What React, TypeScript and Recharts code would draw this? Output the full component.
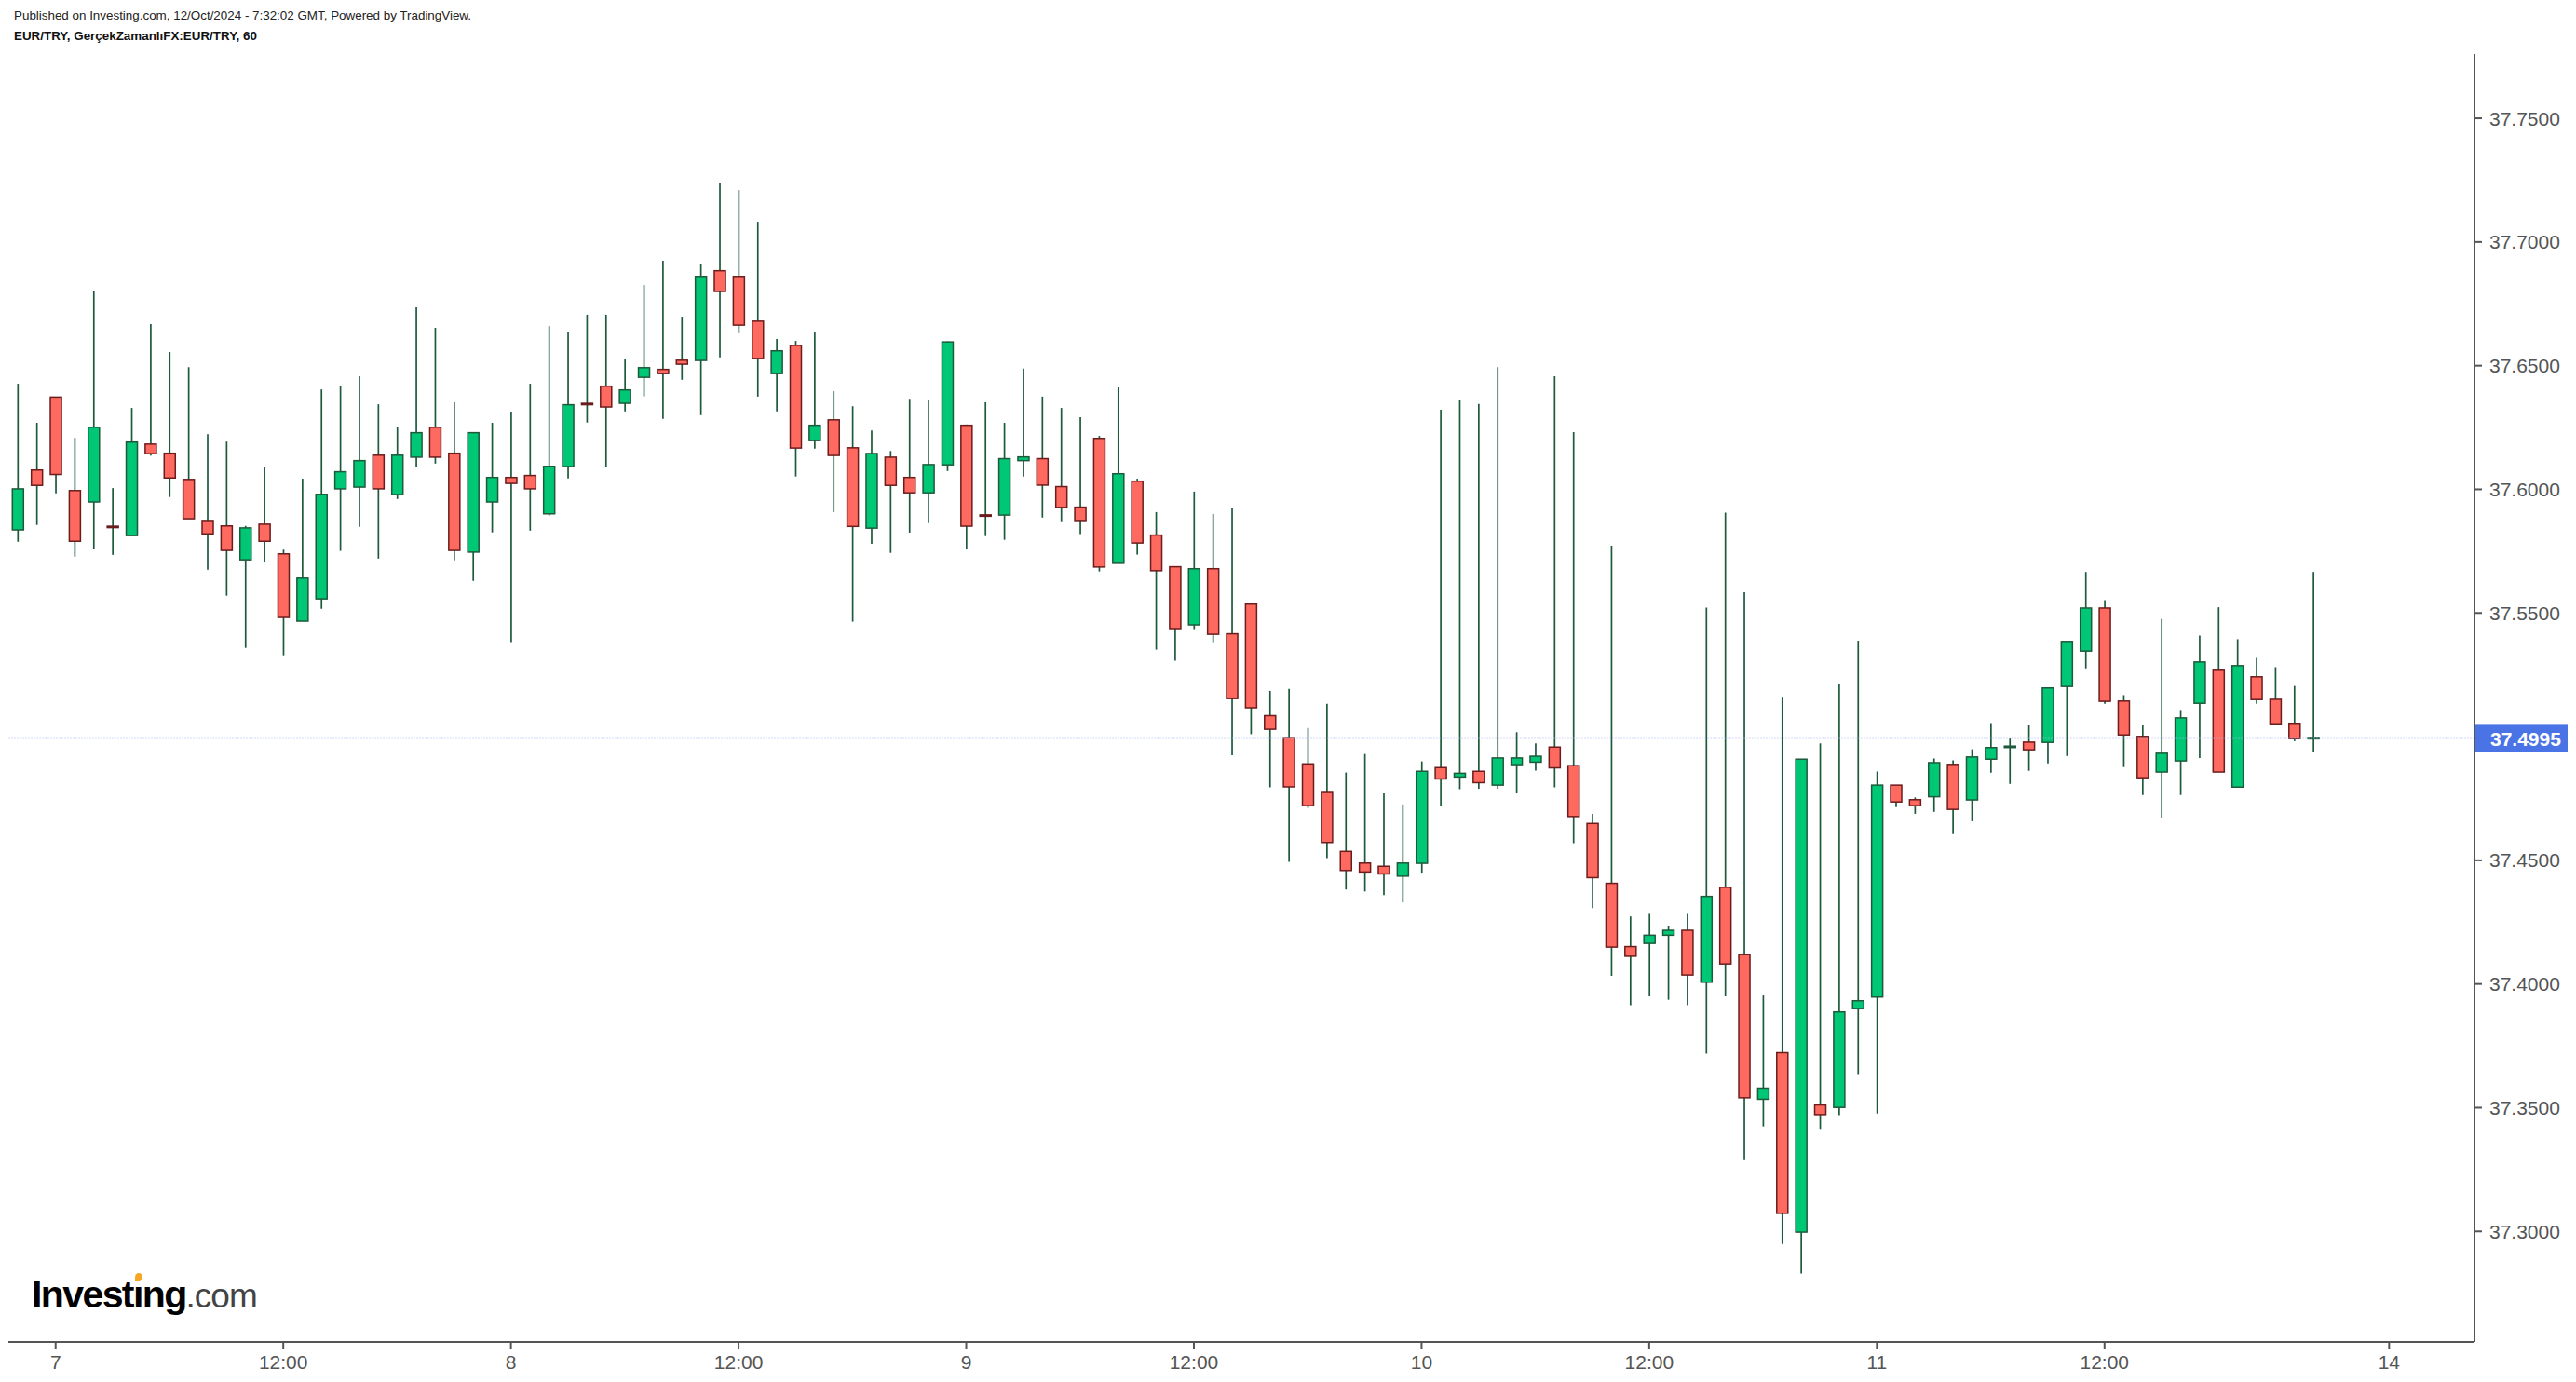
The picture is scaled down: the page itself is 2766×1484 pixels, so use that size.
import React from "react";
import { ComposedChart, Bar, XAxis, YAxis, ReferenceLine } from "recharts";

// EUR/TRY hourly candles, Oct 6 22:00 -> Oct 11 (index = hour slot)
const OPEN = [
  37.5836, 37.6078, 37.6373, 37.5995, 37.5949, 37.5849, 37.5813, 37.6183, 37.6146, 37.604,
  37.5874, 37.5852, 37.5715, 37.5859, 37.5739, 37.5467, 37.5557, 37.6002, 37.6009, 37.6138,
  37.5979, 37.613, 37.6251, 37.6146, 37.5746, 37.5949, 37.6048, 37.6056, 37.5901, 37.6092,
  37.6346, 37.6417, 37.6348, 37.6453, 37.6485, 37.6522, 37.6521, 37.6884, 37.6861, 37.668,
  37.6468, 37.6582, 37.6197, 37.6281, 37.6168, 37.5843, 37.613, 37.6048, 37.5986, 37.6099,
  37.6259, 37.5895, 37.5896, 37.6116, 37.6124, 37.6011, 37.5928, 37.6206, 37.5701, 37.6033,
  37.5815, 37.5687, 37.5452, 37.5679, 37.5416, 37.5536, 37.5085, 37.4996, 37.489, 37.4778,
  37.4536, 37.4489, 37.4476, 37.4436, 37.4488, 37.4875, 37.4837, 37.486, 37.4804, 37.4887,
  37.4897, 37.4958, 37.4883, 37.4649, 37.4407, 37.4151, 37.4164, 37.4197, 37.4217, 37.4007,
  37.4391, 37.412, 37.3534, 37.3722, 37.2997, 37.3511, 37.3501, 37.3901, 37.3947, 37.4804,
  37.4745, 37.4757, 37.4888, 37.4744, 37.4909, 37.4958, 37.4978, 37.4977, 37.5203, 37.5346,
  37.552, 37.5144, 37.5001, 37.4857, 37.4902, 37.5135, 37.5272, 37.4796, 37.5242, 37.5151,
  37.5054, 37.4993,
];
const HIGH = [
  37.6427, 37.6269, 37.6373, 37.6208, 37.6803, 37.6005, 37.6329, 37.6668, 37.6555, 37.6494,
  37.6223, 37.6193, 37.5852, 37.6088, 37.5756, 37.6043, 37.6404, 37.6419, 37.6457, 37.6344,
  37.6254, 37.6736, 37.6653, 37.6352, 37.6229, 37.6269, 37.6314, 37.6427, 37.666, 37.6638,
  37.6706, 37.6706, 37.6525, 37.6826, 37.6924, 37.6698, 37.6909, 37.724, 37.721, 37.7082,
  37.6608, 37.66, 37.6638, 37.6397, 37.6336, 37.6238, 37.6155, 37.6366, 37.6359, 37.6598,
  37.6262, 37.6352, 37.6269, 37.6488, 37.6375, 37.6329, 37.6292, 37.6216, 37.6412, 37.6043,
  37.5908, 37.5687, 37.5991, 37.59, 37.5923, 37.5536, 37.5185, 37.5193, 37.5035, 37.5133,
  37.4855, 37.493, 37.4772, 37.4726, 37.49, 37.6322, 37.636, 37.6345, 37.6494, 37.5018,
  37.4973, 37.6457, 37.6231, 37.4688, 37.5772, 37.4273, 37.4287, 37.4236, 37.4287, 37.5522,
  37.5906, 37.5584, 37.3957, 37.5161, 37.4909, 37.4973, 37.5215, 37.5388, 37.4859, 37.4804,
  37.4754, 37.4912, 37.4904, 37.4949, 37.5055, 37.4995, 37.5047, 37.5197, 37.5385, 37.5666,
  37.5552, 37.5168, 37.5047, 37.5476, 37.5108, 37.5409, 37.5523, 37.5394, 37.5318, 37.5281,
  37.5205, 37.5666,
];
const LOW = [
  37.5788, 37.5856, 37.5984, 37.5728, 37.5758, 37.5735, 37.5813, 37.6136, 37.5969, 37.5881,
  37.5675, 37.557, 37.5359, 37.5705, 37.5329, 37.5467, 37.5517, 37.5751, 37.5848, 37.572,
  37.5961, 37.6089, 37.6104, 37.5713, 37.563, 37.5826, 37.5382, 37.5833, 37.5894, 37.6044,
  37.627, 37.6089, 37.6315, 37.6376, 37.6285, 37.6443, 37.63, 37.6534, 37.6631, 37.6375,
  37.6315, 37.6052, 37.6165, 37.5908, 37.5465, 37.578, 37.5743, 37.5825, 37.5863, 37.6074,
  37.5758, 37.5811, 37.5796, 37.6052, 37.5886, 37.5871, 37.5819, 37.5668, 37.5701, 37.5736,
  37.5352, 37.5307, 37.5435, 37.5382, 37.4925, 37.501, 37.4795, 37.4494, 37.4712, 37.4509,
  37.4382, 37.4374, 37.4359, 37.433, 37.445, 37.472, 37.4788, 37.4789, 37.4789, 37.4774,
  37.4863, 37.4795, 37.4569, 37.4307, 37.4033, 37.3914, 37.3951, 37.3936, 37.3914, 37.3718,
  37.3951, 37.3288, 37.3424, 37.2949, 37.283, 37.3414, 37.347, 37.3635, 37.3476, 37.4715,
  37.4688, 37.4696, 37.4606, 37.4658, 37.4854, 37.4809, 37.4862, 37.4892, 37.4922, 37.5276,
  37.5133, 37.4877, 37.4764, 37.4673, 37.4764, 37.4914, 37.4857, 37.4796, 37.5133, 37.5052,
  37.4982, 37.4937,
];
const CLOSE = [
  37.6002, 37.6016, 37.606, 37.579, 37.6251, 37.5847, 37.6191, 37.6144, 37.6046, 37.5881,
  37.582, 37.5753, 37.5844, 37.579, 37.5482, 37.5641, 37.598, 37.6071, 37.6116, 37.6002,
  37.6138, 37.6229, 37.613, 37.5753, 37.6229, 37.6048, 37.6024, 37.6002, 37.6093, 37.6342,
  37.6344, 37.6333, 37.6402, 37.6492, 37.6468, 37.6506, 37.6861, 37.68, 37.6664, 37.6529,
  37.656, 37.6167, 37.6259, 37.6137, 37.585, 37.6145, 37.6016, 37.5986, 37.61, 37.6596,
  37.5851, 37.5893, 37.6124, 37.6131, 37.6017, 37.5927, 37.5874, 37.5686, 37.6063, 37.5783,
  37.5671, 37.5437, 37.5679, 37.5414, 37.5154, 37.5117, 37.503, 37.4797, 37.4721, 37.4572,
  37.4459, 37.4453, 37.4445, 37.4489, 37.486, 37.4829, 37.4852, 37.4814, 37.4914, 37.4914,
  37.4921, 37.4874, 37.4677, 37.443, 37.4149, 37.4112, 37.4197, 37.4217, 37.4036, 37.4354,
  37.4081, 37.354, 37.3579, 37.3073, 37.4909, 37.3472, 37.3887, 37.3932, 37.4804, 37.4736,
  37.4721, 37.4895, 37.4706, 37.4918, 37.4956, 37.496, 37.4947, 37.5197, 37.5385, 37.552,
  37.5143, 37.5007, 37.4834, 37.4933, 37.5076, 37.5302, 37.4857, 37.5287, 37.515, 37.5052,
  37.4992, 37.4995,
];

const X_TICKS = [2, 14, 26, 38, 50, 62, 74, 86, 98, 110, 125];
const X_LABELS = ["7", "12:00", "8", "12:00", "9", "12:00", "10", "12:00", "11", "12:00", "14"];
// 37.5000 is hidden behind the last-price tag
const Y_TICKS = [37.3, 37.35, 37.4, 37.45, 37.55, 37.6, 37.65, 37.7, 37.75];
const LAST_PRICE = 37.4995;

const data = OPEN.map((o, i) => ({
  t: i,
  open: o,
  high: HIGH[i],
  low: LOW[i],
  close: CLOSE[i],
  range: [LOW[i], HIGH[i]],
}));

const UP_FILL = "#00c775";
const UP_LINE = "#1d5a3b";
const DOWN_FILL = "#ff6a60";
const DOWN_LINE = "#6b1c1c";
const AXIS = "#555555";
const FONT = "'Liberation Sans', Arial, sans-serif";

function Candle(props: any) {
  const { x, y, width, height, payload } = props;
  if (!payload) return null;
  const { open, close, high, low } = payload;
  const top = Math.min(y, y + height);
  const h = Math.abs(height);
  const k = high === low ? 0 : h / (high - low);
  const yOf = (v: number) => top + (high - v) * k;
  const cx = x + width / 2;
  const up = close >= open;
  const bTop = yOf(Math.max(open, close));
  const bBot = yOf(Math.min(open, close));
  const bw = 12;
  const doji = bBot - bTop < 2;
  return (
    <g>
      <line x1={cx} x2={cx} y1={top} y2={top + h} stroke={UP_LINE} strokeWidth={1.7} />
      {doji ? (
        <rect x={cx - bw / 2 - 0.75} y={(bTop + bBot) / 2 - 1.5} width={bw + 1.5} height={3} fill={up ? UP_LINE : DOWN_LINE} />
      ) : (
        <rect
          x={cx - bw / 2}
          y={bTop}
          width={bw}
          height={bBot - bTop}
          fill={up ? UP_FILL : DOWN_FILL}
          stroke={up ? UP_LINE : DOWN_LINE}
          strokeWidth={1.5}
        />
      )}
    </g>
  );
}

function PriceTag(props: any) {
  const { viewBox } = props;
  if (!viewBox) return null;
  const x = viewBox.x + viewBox.width + 1;
  const y = viewBox.y;
  return (
    <g>
      <rect x={x} y={y - 15} width={99} height={30} fill="#4a74e6" />
      <text x={x + 16} y={y + 1} dy="0.355em" fill="#ffffff" fontSize={21} fontWeight={600} fontFamily={FONT}>
        {LAST_PRICE.toFixed(4)}
      </text>
    </g>
  );
}

export default function App() {
  return (
    <div style={{ position: "absolute", left: 0, top: 0, width: 2766, height: 1484, background: "#fff", fontFamily: FONT }}>
      <div style={{ position: "absolute", left: 15, top: 9, fontSize: 13.4, color: "#222", whiteSpace: "nowrap" }}>
        Published on Investing.com, 12/Oct/2024 - 7:32:02 GMT, Powered by TradingView.
      </div>
      <div style={{ position: "absolute", left: 15, top: 31, fontSize: 13.4, fontWeight: 700, color: "#111", whiteSpace: "nowrap" }}>
        EUR/TRY, GerçekZamanlıFX:EUR/TRY, 60
      </div>
      <ComposedChart
        width={2766}
        height={1484}
        data={data}
        margin={{ top: 58, right: 9, bottom: 3, left: 9 }}
      >
        <XAxis
          dataKey="t"
          type="number"
          domain={[-0.49, 129.5]}
          allowDataOverflow
          ticks={X_TICKS}
          tickFormatter={(v: number) => X_LABELS[X_TICKS.indexOf(v)] ?? ""}
          height={40}
          stroke={AXIS}
          strokeWidth={2}
          tickSize={8}
          tickMargin={6}
          tick={{ fill: AXIS, fontSize: 21, fontFamily: FONT }}
        />
        <YAxis
          orientation="right"
          type="number"
          domain={[37.2553, 37.776]}
          allowDataOverflow
          ticks={Y_TICKS}
          tickFormatter={(v: number) => v.toFixed(4)}
          width={100}
          stroke={AXIS}
          strokeWidth={2}
          tickSize={8}
          tickMargin={8}
          tick={{ fill: AXIS, fontSize: 21, fontFamily: FONT }}
        />
        <ReferenceLine
          y={LAST_PRICE}
          stroke="#a9b8ee"
          strokeWidth={1.5}
          strokeDasharray="2 1"
          label={<PriceTag />}
        />
        <Bar dataKey="range" barSize={13} shape={<Candle />} isAnimationActive={false} />
      </ComposedChart>
      <div style={{ position: "absolute", left: 34, top: 1370, whiteSpace: "nowrap", lineHeight: 1 }}>
        <span style={{ fontSize: 41, fontWeight: 700, color: "#000", letterSpacing: -1.6 }}>
          Invest
          <span style={{ position: "relative" }}>
            ı
            <span
              style={{
                position: "absolute",
                left: 2,
                top: 0,
                width: 8,
                height: 9,
                background: "#f5a623",
                borderRadius: "50% 50% 50% 0",
              }}
            />
          </span>
          ng
        </span>
        <span style={{ fontSize: 37, color: "#444", letterSpacing: -1 }}>.com</span>
      </div>
    </div>
  );
}
